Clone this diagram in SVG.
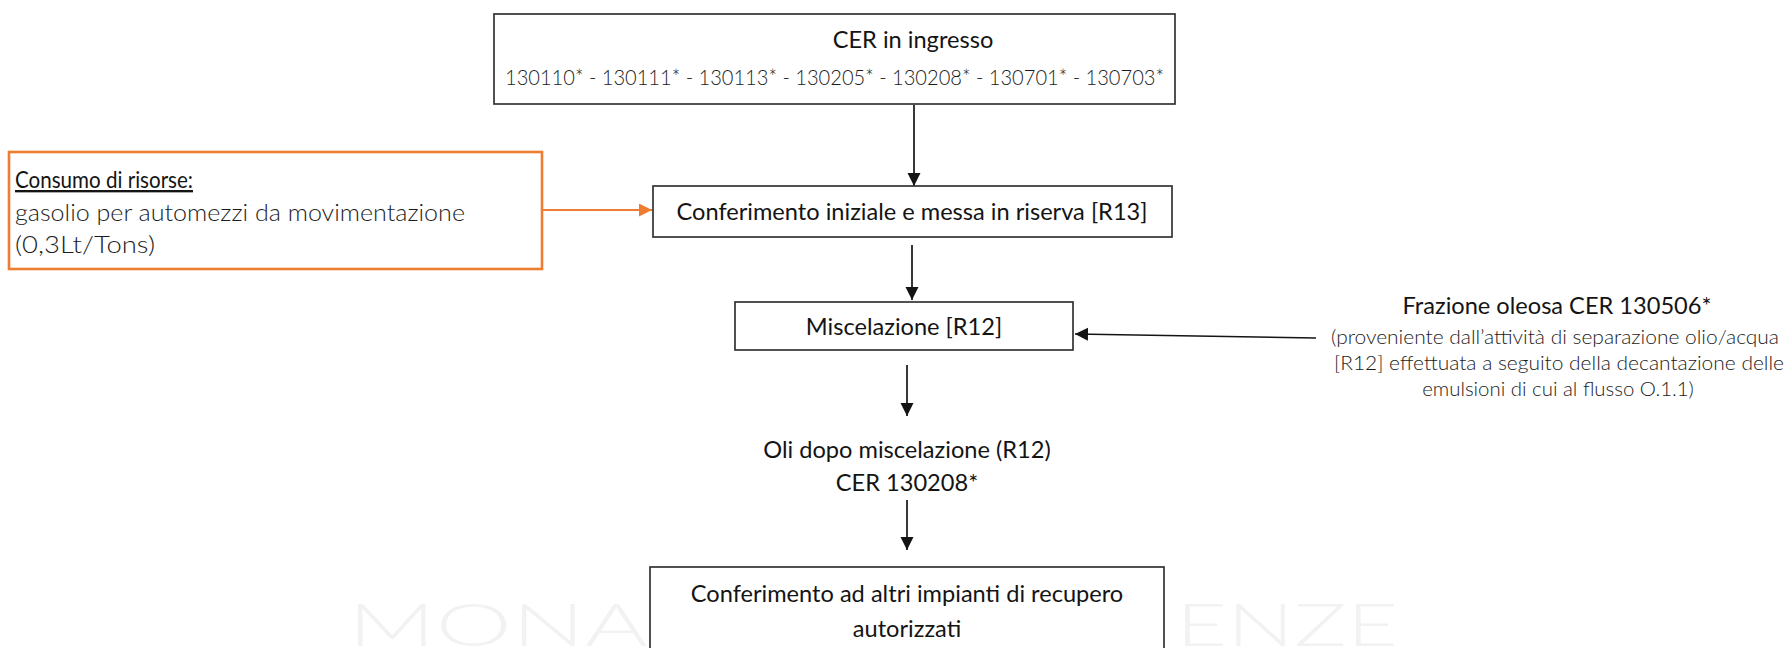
<svg xmlns="http://www.w3.org/2000/svg" width="1789" height="648" viewBox="0 0 1789 648">
  <defs>
    <style>
      .box { fill: #ffffff; stroke: #333333; stroke-width: 1.7; }
      .obox { fill: #ffffff; stroke: #ed7d31; stroke-width: 2.6; }
      .t { font-family: Lato, "Open Sans", "Liberation Sans", sans-serif; font-size: 23.6px; fill: #141414; }
      .tl { font-family: Lato, "Open Sans", "Liberation Sans", sans-serif; font-size: 22px; font-weight: 300; fill: #1c1c1c; }
      .tb { font-family: Lato, "Open Sans", "Liberation Sans", sans-serif; font-size: 24px; font-weight: 300; fill: #1c1c1c; }
      .ts { font-family: Lato, "Open Sans", "Liberation Sans", sans-serif; font-size: 20.4px; font-weight: 300; fill: #1c1c1c; }
      .mid { text-anchor: middle; }
      .wm { font-family: Lato, "Open Sans", "Liberation Sans", sans-serif; font-size: 60px; font-weight: 300; fill: #f2f2f2; }
      .edge { fill: none; stroke: #141414; stroke-width: 1.7; }
      .oedge { fill: none; stroke: #ed7d31; stroke-width: 2; }
    </style>
    <marker id="arr" markerUnits="userSpaceOnUse" markerWidth="14" markerHeight="14" refX="13" refY="6.5" orient="auto">
      <path d="M0,0 L13,6.5 L0,13 Z" fill="#141414"/>
    </marker>
    <marker id="oarr" markerUnits="userSpaceOnUse" markerWidth="14" markerHeight="14" refX="13" refY="6.5" orient="auto">
      <path d="M0,0 L13,6.5 L0,13 Z" fill="#ed7d31"/>
    </marker>
  </defs>

  <rect width="1789" height="648" fill="#ffffff"/>

  <!-- faint background lettering -->
  <g id="watermark">
    <text class="wm" x="348" y="646" textLength="300" lengthAdjust="spacingAndGlyphs">MONA</text>
    <text class="wm" x="1176" y="646" textLength="222" lengthAdjust="spacingAndGlyphs">ENZE</text>
  </g>

  <!-- connectors -->
  <g id="connectors">
    <line class="edge" x1="914" y1="105" x2="914" y2="186" marker-end="url(#arr)"/>
    <line class="oedge" x1="542" y1="210" x2="652" y2="210" marker-end="url(#oarr)"/>
    <line class="edge" x1="912" y1="245" x2="912" y2="300" marker-end="url(#arr)"/>
    <line class="edge" x1="1316" y1="338" x2="1075" y2="334" marker-end="url(#arr)"/>
    <line class="edge" x1="907" y1="365" x2="907" y2="416" marker-end="url(#arr)"/>
    <line class="edge" x1="907" y1="500" x2="907" y2="550" marker-end="url(#arr)"/>
  </g>

  <g id="cer-ingresso">
    <rect class="box" x="494" y="14" width="681" height="90"/>
    <text class="t mid" x="913" y="48">CER in ingresso</text>
    <text class="tl mid" x="834.5" y="85" textLength="659" lengthAdjust="spacingAndGlyphs">130110* - 130111* - 130113* - 130205* - 130208* - 130701* - 130703*</text>
  </g>

  <g id="consumo-risorse">
    <rect class="obox" x="9" y="152" width="533" height="117"/>
    <text class="t" x="15" y="188" font-size="23" text-decoration="underline" textLength="178" lengthAdjust="spacingAndGlyphs">Consumo di risorse:</text>
    <text class="tb" x="15" y="221" textLength="450" lengthAdjust="spacingAndGlyphs">gasolio per automezzi da movimentazione</text>
    <text class="tb" x="15" y="253" textLength="140" lengthAdjust="spacingAndGlyphs">(0,3Lt/Tons)</text>
  </g>

  <g id="conferimento-iniziale">
    <rect class="box" x="653" y="186" width="519" height="51"/>
    <text class="t mid" x="912" y="220">Conferimento iniziale e messa in riserva [R13]</text>
  </g>

  <g id="miscelazione">
    <rect class="box" x="735" y="302" width="338" height="48"/>
    <text class="t mid" x="904" y="335">Miscelazione [R12]</text>
  </g>

  <g id="frazione-oleosa">
    <text class="t mid" x="1557" y="314">Frazione oleosa CER 130506*</text>
    <text class="ts mid" x="1555" y="344" textLength="448" lengthAdjust="spacingAndGlyphs">(proveniente dall’attività di separazione olio/acqua</text>
    <text class="ts mid" x="1559" y="370" textLength="450" lengthAdjust="spacingAndGlyphs">[R12] effettuata a seguito della decantazione delle</text>
    <text class="ts mid" x="1558" y="396">emulsioni di cui al flusso O.1.1)</text>
  </g>

  <g id="oli-miscelazione">
    <text class="t mid" x="907" y="458">Oli dopo miscelazione (R12)</text>
    <text class="t mid" x="907" y="491">CER 130208*</text>
  </g>

  <g id="conferimento-altri">
    <rect class="box" x="650" y="567" width="514" height="100"/>
    <text class="t mid" x="907" y="602">Conferimento ad altri impianti di recupero</text>
    <text class="t mid" x="907" y="637">autorizzati</text>
  </g>
</svg>
